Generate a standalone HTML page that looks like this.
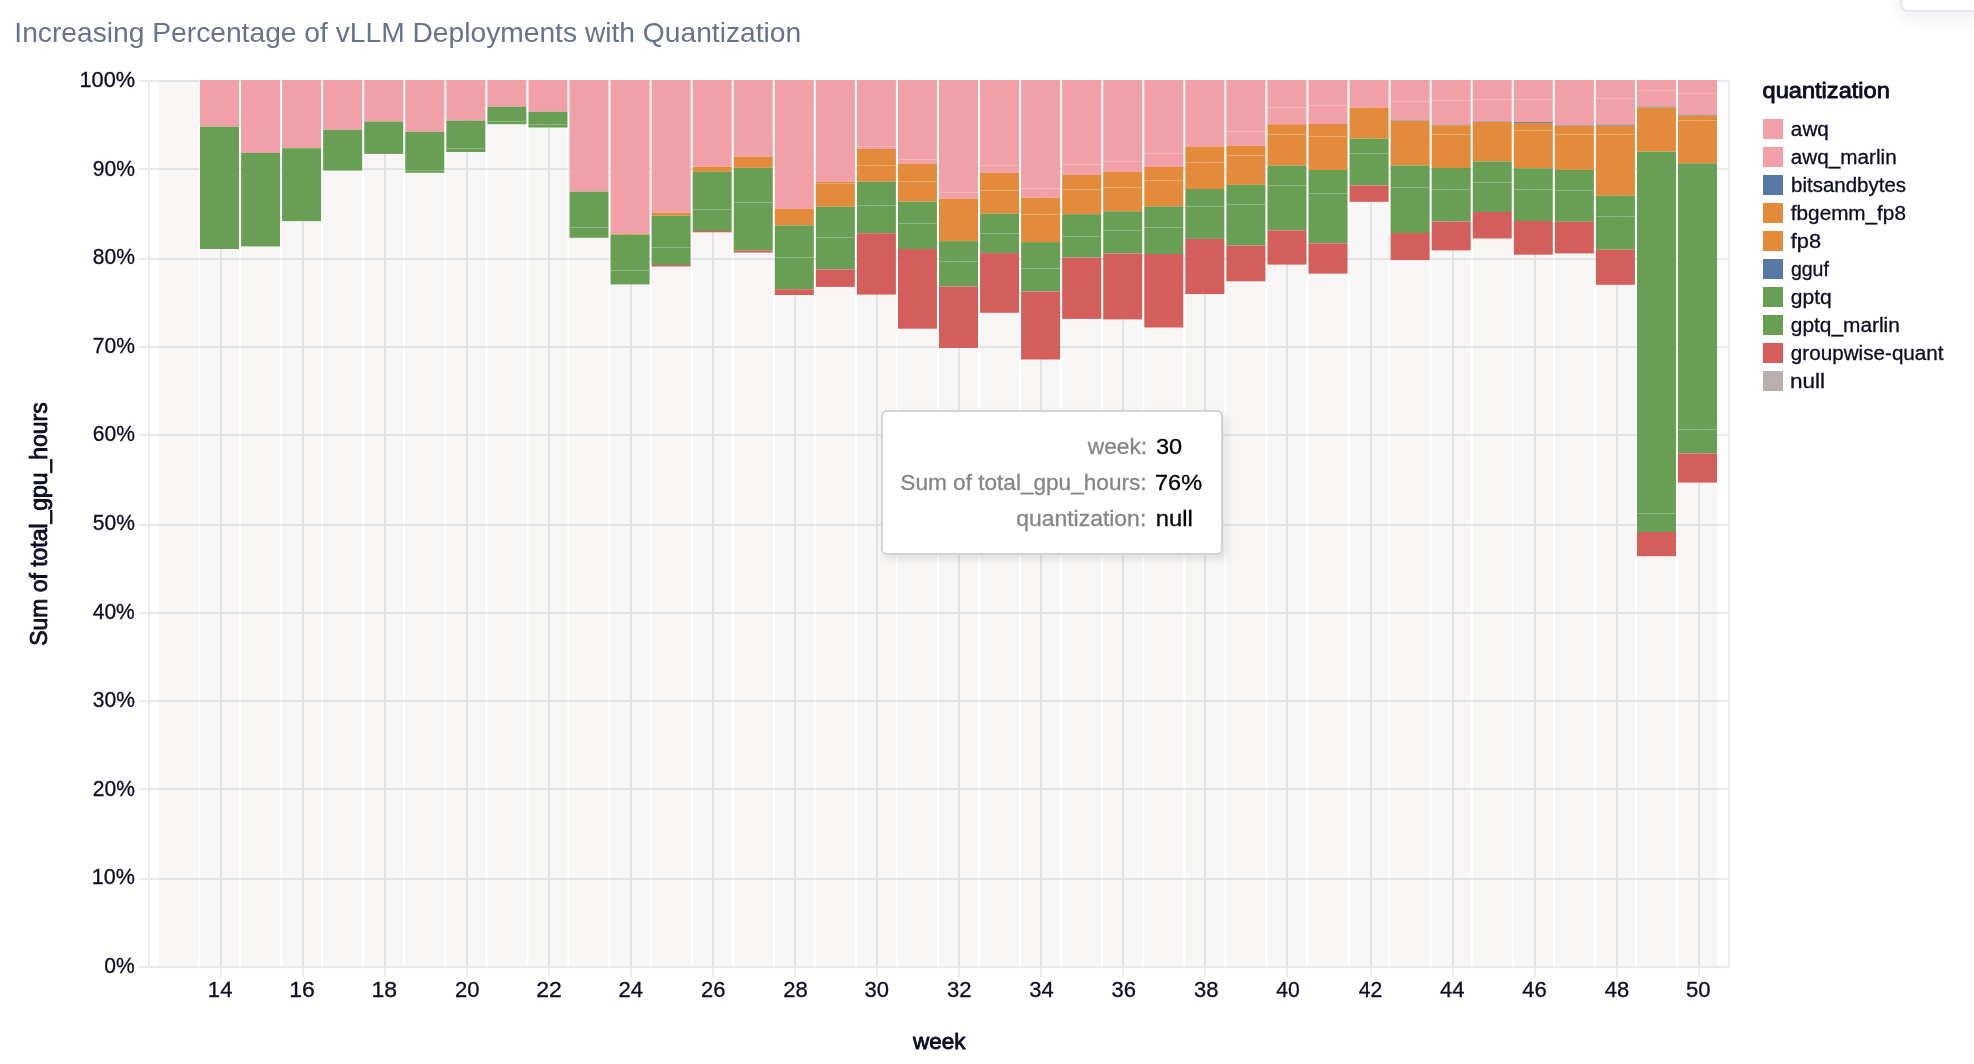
<!DOCTYPE html>
<html><head><meta charset="utf-8"><title>chart</title>
<style>
html,body{margin:0;padding:0;background:#fff;}
body{width:1974px;height:1064px;position:relative;overflow:hidden;font-family:"Liberation Sans",sans-serif;}
svg{position:absolute;left:0;top:0;will-change:transform;}
svg text{font-family:"Liberation Sans",sans-serif;}
.tip{position:absolute;box-sizing:border-box;left:881px;top:410px;width:342px;height:144.5px;background:#fff;border:2px solid #d4d4d4;border-radius:6px;box-shadow:4px 4px 8px rgba(0,0,0,0.10);}
.corner{position:absolute;left:1900px;top:-32px;width:120px;height:40px;background:#fff;border:2px solid #e6e7ee;border-radius:8px;box-shadow:0 6px 18px rgba(20,20,60,0.07);}
</style></head><body>
<div class="corner"></div>
<svg width="1974" height="1064" viewBox="0 0 1974 1064">
<g fill="#e9e9f0">
<rect x="139" y="966" width="1591" height="2"/>
<rect x="139" y="878" width="1591" height="2"/>
<rect x="139" y="788" width="1591" height="2"/>
<rect x="139" y="700" width="1591" height="2"/>
<rect x="139" y="612" width="1591" height="2"/>
<rect x="139" y="524" width="1591" height="2"/>
<rect x="139" y="434" width="1591" height="2"/>
<rect x="139" y="346" width="1591" height="2"/>
<rect x="139" y="258" width="1591" height="2"/>
<rect x="139" y="168" width="1591" height="2"/>
<rect x="139" y="80" width="1591" height="2"/>
<rect x="220" y="80" width="2" height="897"/>
<rect x="302" y="80" width="2" height="897"/>
<rect x="384" y="80" width="2" height="897"/>
<rect x="466" y="80" width="2" height="897"/>
<rect x="548" y="80" width="2" height="897"/>
<rect x="630" y="80" width="2" height="897"/>
<rect x="712" y="80" width="2" height="897"/>
<rect x="794" y="80" width="2" height="897"/>
<rect x="876" y="80" width="2" height="897"/>
<rect x="958" y="80" width="2" height="897"/>
<rect x="1040" y="80" width="2" height="897"/>
<rect x="1122" y="80" width="2" height="897"/>
<rect x="1204" y="80" width="2" height="897"/>
<rect x="1286" y="80" width="2" height="897"/>
<rect x="1370" y="80" width="2" height="897"/>
<rect x="1452" y="80" width="2" height="897"/>
<rect x="1534" y="80" width="2" height="897"/>
<rect x="1616" y="80" width="2" height="897"/>
<rect x="1698" y="80" width="2" height="897"/>
<rect x="148" y="80" width="2" height="888"/>
<rect x="1728" y="80" width="2" height="888"/>
</g>
<g fill="#b9afab" fill-opacity="0.115">
<rect x="158.94" y="80" width="39" height="886"/>
<rect x="200" y="249" width="39" height="717"/>
<rect x="241.06" y="246.4" width="39" height="719.6"/>
<rect x="282.11" y="221.1" width="39" height="744.9"/>
<rect x="323.17" y="170.6" width="39" height="795.4"/>
<rect x="364.22" y="153.9" width="39" height="812.1"/>
<rect x="405.28" y="172.8" width="39" height="793.2"/>
<rect x="446.34" y="152" width="39" height="814"/>
<rect x="487.39" y="124.2" width="39" height="841.8"/>
<rect x="528.45" y="127.5" width="39" height="838.5"/>
<rect x="569.5" y="237.8" width="39" height="728.2"/>
<rect x="610.56" y="284.4" width="39" height="681.6"/>
<rect x="651.62" y="266.5" width="39" height="699.5"/>
<rect x="692.67" y="232.3" width="39" height="733.7"/>
<rect x="733.73" y="252.6" width="39" height="713.4"/>
<rect x="774.78" y="295" width="39" height="671"/>
<rect x="815.84" y="286.9" width="39" height="679.1"/>
<rect x="856.9" y="294.6" width="39" height="671.4"/>
<rect x="897.95" y="328.7" width="39" height="637.3"/>
<rect x="939.01" y="348" width="39" height="618"/>
<rect x="980.06" y="312.8" width="39" height="653.2"/>
<rect x="1021.12" y="359.5" width="39" height="606.5"/>
<rect x="1062.18" y="318.9" width="39" height="647.1"/>
<rect x="1103.23" y="319.4" width="39" height="646.6"/>
<rect x="1144.29" y="327.5" width="39" height="638.5"/>
<rect x="1185.34" y="294" width="39" height="672"/>
<rect x="1226.4" y="281.3" width="39" height="684.7"/>
<rect x="1267.46" y="264.6" width="39" height="701.4"/>
<rect x="1308.51" y="273.6" width="39" height="692.4"/>
<rect x="1349.57" y="201.8" width="39" height="764.2"/>
<rect x="1390.62" y="260.1" width="39" height="705.9"/>
<rect x="1431.68" y="250.4" width="39" height="715.6"/>
<rect x="1472.74" y="238.5" width="39" height="727.5"/>
<rect x="1513.79" y="254.7" width="39" height="711.3"/>
<rect x="1554.85" y="253.4" width="39" height="712.6"/>
<rect x="1595.9" y="284.8" width="39" height="681.2"/>
<rect x="1636.96" y="556.2" width="39" height="409.8"/>
<rect x="1678.02" y="482.6" width="39" height="483.4"/>
</g>
<rect x="200" y="80" width="39" height="46.7" fill="#f0a0a6"/>
<rect x="200" y="126.7" width="39" height="122.3" fill="#699f55"/>
<rect x="241.06" y="80" width="39" height="73" fill="#f0a0a6"/>
<rect x="241.06" y="153" width="39" height="93.4" fill="#699f55"/>
<rect x="282.11" y="80" width="39" height="68.2" fill="#f0a0a6"/>
<rect x="282.11" y="148.2" width="39" height="72.9" fill="#699f55"/>
<rect x="323.17" y="80" width="39" height="49.8" fill="#f0a0a6"/>
<rect x="323.17" y="129.8" width="39" height="40.8" fill="#699f55"/>
<rect x="364.22" y="80" width="39" height="41.5" fill="#f0a0a6"/>
<rect x="364.22" y="121.5" width="39" height="32.4" fill="#699f55"/>
<rect x="405.28" y="80" width="39" height="51.8" fill="#f0a0a6"/>
<rect x="405.28" y="131.8" width="39" height="38.7" fill="#699f55"/>
<rect x="405.28" y="170.5" width="39" height="2.3" fill="#699f55"/>
<rect x="446.34" y="80" width="39" height="40.6" fill="#f0a0a6"/>
<rect x="446.34" y="120.6" width="39" height="27.9" fill="#699f55"/>
<rect x="446.34" y="148.5" width="39" height="3.5" fill="#699f55"/>
<rect x="487.39" y="80" width="39" height="26.7" fill="#f0a0a6"/>
<rect x="487.39" y="106.7" width="39" height="14.8" fill="#699f55"/>
<rect x="487.39" y="121.5" width="39" height="2.7" fill="#699f55"/>
<rect x="528.45" y="80" width="39" height="31.7" fill="#f0a0a6"/>
<rect x="528.45" y="111.7" width="39" height="12.8" fill="#699f55"/>
<rect x="528.45" y="124.5" width="39" height="3" fill="#699f55"/>
<rect x="569.5" y="80" width="39" height="111.6" fill="#f0a0a6"/>
<rect x="569.5" y="191.6" width="39" height="35.9" fill="#699f55"/>
<rect x="569.5" y="227.5" width="39" height="10.3" fill="#699f55"/>
<rect x="610.56" y="80" width="39" height="153.6" fill="#f0a0a6"/>
<rect x="610.56" y="233.6" width="39" height="1" fill="#e38b3a"/>
<rect x="610.56" y="234.6" width="39" height="35.9" fill="#699f55"/>
<rect x="610.56" y="270.5" width="39" height="13.9" fill="#699f55"/>
<rect x="651.62" y="80" width="39" height="132.6" fill="#f0a0a6"/>
<rect x="651.62" y="212.6" width="39" height="3.1" fill="#e38b3a"/>
<rect x="651.62" y="215.7" width="39" height="31.8" fill="#699f55"/>
<rect x="651.62" y="247.5" width="39" height="17.5" fill="#699f55"/>
<rect x="651.62" y="265" width="39" height="1.5" fill="#d45e5b"/>
<rect x="692.67" y="80" width="39" height="86.7" fill="#f0a0a6"/>
<rect x="692.67" y="166.7" width="39" height="5.1" fill="#e38b3a"/>
<rect x="692.67" y="171.8" width="39" height="37.7" fill="#699f55"/>
<rect x="692.67" y="209.5" width="39" height="21.5" fill="#699f55"/>
<rect x="692.67" y="231" width="39" height="1.3" fill="#d45e5b"/>
<rect x="733.73" y="80" width="39" height="76.7" fill="#f0a0a6"/>
<rect x="733.73" y="156.7" width="39" height="11.1" fill="#e38b3a"/>
<rect x="733.73" y="167.8" width="39" height="34.7" fill="#699f55"/>
<rect x="733.73" y="202.5" width="39" height="48.1" fill="#699f55"/>
<rect x="733.73" y="250.6" width="39" height="2" fill="#d45e5b"/>
<rect x="774.78" y="80" width="39" height="128.9" fill="#f0a0a6"/>
<rect x="774.78" y="208.9" width="39" height="16.5" fill="#e38b3a"/>
<rect x="774.78" y="225.4" width="39" height="32.1" fill="#699f55"/>
<rect x="774.78" y="257.5" width="39" height="31.8" fill="#699f55"/>
<rect x="774.78" y="289.3" width="39" height="5.7" fill="#d45e5b"/>
<rect x="815.84" y="80" width="39" height="101.9" fill="#f0a0a6"/>
<rect x="815.84" y="181.9" width="39" height="1.6" fill="#e38b3a"/>
<rect x="815.84" y="183.5" width="39" height="23.2" fill="#e38b3a"/>
<rect x="815.84" y="206.7" width="39" height="30.8" fill="#699f55"/>
<rect x="815.84" y="237.5" width="39" height="31.9" fill="#699f55"/>
<rect x="815.84" y="269.4" width="39" height="17.5" fill="#d45e5b"/>
<rect x="856.9" y="80" width="39" height="66.5" fill="#f0a0a6"/>
<rect x="856.9" y="146.5" width="39" height="2.5" fill="#f0a0a6"/>
<rect x="856.9" y="149" width="39" height="16.5" fill="#e38b3a"/>
<rect x="856.9" y="165.5" width="39" height="16.2" fill="#e38b3a"/>
<rect x="856.9" y="181.7" width="39" height="23.8" fill="#699f55"/>
<rect x="856.9" y="205.5" width="39" height="27.7" fill="#699f55"/>
<rect x="856.9" y="233.2" width="39" height="61.4" fill="#d45e5b"/>
<rect x="897.95" y="80" width="39" height="79.5" fill="#f0a0a6"/>
<rect x="897.95" y="159.5" width="39" height="4.3" fill="#f0a0a6"/>
<rect x="897.95" y="163.8" width="39" height="17.7" fill="#e38b3a"/>
<rect x="897.95" y="181.5" width="39" height="20.1" fill="#e38b3a"/>
<rect x="897.95" y="201.6" width="39" height="21.9" fill="#699f55"/>
<rect x="897.95" y="223.5" width="39" height="25.5" fill="#699f55"/>
<rect x="897.95" y="249" width="39" height="79.7" fill="#d45e5b"/>
<rect x="939.01" y="80" width="39" height="112.5" fill="#f0a0a6"/>
<rect x="939.01" y="192.5" width="39" height="6.2" fill="#f0a0a6"/>
<rect x="939.01" y="198.7" width="39" height="42.4" fill="#e38b3a"/>
<rect x="939.01" y="241.1" width="39" height="20.4" fill="#699f55"/>
<rect x="939.01" y="261.5" width="39" height="25" fill="#699f55"/>
<rect x="939.01" y="286.5" width="39" height="61.5" fill="#d45e5b"/>
<rect x="980.06" y="80" width="39" height="85.5" fill="#f0a0a6"/>
<rect x="980.06" y="165.5" width="39" height="7.4" fill="#f0a0a6"/>
<rect x="980.06" y="172.9" width="39" height="17.6" fill="#e38b3a"/>
<rect x="980.06" y="190.5" width="39" height="23.2" fill="#e38b3a"/>
<rect x="980.06" y="213.7" width="39" height="19.8" fill="#699f55"/>
<rect x="980.06" y="233.5" width="39" height="19.6" fill="#699f55"/>
<rect x="980.06" y="253.1" width="39" height="59.7" fill="#d45e5b"/>
<rect x="1021.12" y="80" width="39" height="108.5" fill="#f0a0a6"/>
<rect x="1021.12" y="188.5" width="39" height="9.1" fill="#f0a0a6"/>
<rect x="1021.12" y="197.6" width="39" height="16.9" fill="#e38b3a"/>
<rect x="1021.12" y="214.5" width="39" height="27.6" fill="#e38b3a"/>
<rect x="1021.12" y="242.1" width="39" height="26.4" fill="#699f55"/>
<rect x="1021.12" y="268.5" width="39" height="23" fill="#699f55"/>
<rect x="1021.12" y="291.5" width="39" height="68" fill="#d45e5b"/>
<rect x="1062.18" y="80" width="39" height="84.5" fill="#f0a0a6"/>
<rect x="1062.18" y="164.5" width="39" height="10.4" fill="#f0a0a6"/>
<rect x="1062.18" y="174.9" width="39" height="14.6" fill="#e38b3a"/>
<rect x="1062.18" y="189.5" width="39" height="24.7" fill="#e38b3a"/>
<rect x="1062.18" y="214.2" width="39" height="22.3" fill="#699f55"/>
<rect x="1062.18" y="236.5" width="39" height="21.1" fill="#699f55"/>
<rect x="1062.18" y="257.6" width="39" height="61.3" fill="#d45e5b"/>
<rect x="1103.23" y="80" width="39" height="81.5" fill="#f0a0a6"/>
<rect x="1103.23" y="161.5" width="39" height="10.3" fill="#f0a0a6"/>
<rect x="1103.23" y="171.8" width="39" height="15.7" fill="#e38b3a"/>
<rect x="1103.23" y="187.5" width="39" height="23.8" fill="#e38b3a"/>
<rect x="1103.23" y="211.3" width="39" height="19.2" fill="#699f55"/>
<rect x="1103.23" y="230.5" width="39" height="23.1" fill="#699f55"/>
<rect x="1103.23" y="253.6" width="39" height="65.8" fill="#d45e5b"/>
<rect x="1144.29" y="80" width="39" height="73.5" fill="#f0a0a6"/>
<rect x="1144.29" y="153.5" width="39" height="13.4" fill="#f0a0a6"/>
<rect x="1144.29" y="166.9" width="39" height="13.6" fill="#e38b3a"/>
<rect x="1144.29" y="180.5" width="39" height="25.9" fill="#e38b3a"/>
<rect x="1144.29" y="206.4" width="39" height="21.1" fill="#699f55"/>
<rect x="1144.29" y="227.5" width="39" height="26.5" fill="#699f55"/>
<rect x="1144.29" y="254" width="39" height="73.5" fill="#d45e5b"/>
<rect x="1185.34" y="80" width="39" height="66.4" fill="#f0a0a6"/>
<rect x="1185.34" y="146.4" width="39" height="16.1" fill="#e38b3a"/>
<rect x="1185.34" y="162.5" width="39" height="26.5" fill="#e38b3a"/>
<rect x="1185.34" y="189" width="39" height="17.5" fill="#699f55"/>
<rect x="1185.34" y="206.5" width="39" height="32.4" fill="#699f55"/>
<rect x="1185.34" y="238.9" width="39" height="55.1" fill="#d45e5b"/>
<rect x="1226.4" y="80" width="39" height="51.5" fill="#f0a0a6"/>
<rect x="1226.4" y="131.5" width="39" height="14.4" fill="#f0a0a6"/>
<rect x="1226.4" y="145.9" width="39" height="9.6" fill="#e38b3a"/>
<rect x="1226.4" y="155.5" width="39" height="29.3" fill="#e38b3a"/>
<rect x="1226.4" y="184.8" width="39" height="19.7" fill="#699f55"/>
<rect x="1226.4" y="204.5" width="39" height="41.1" fill="#699f55"/>
<rect x="1226.4" y="245.6" width="39" height="35.7" fill="#d45e5b"/>
<rect x="1267.46" y="80" width="39" height="27.5" fill="#f0a0a6"/>
<rect x="1267.46" y="107.5" width="39" height="16.8" fill="#f0a0a6"/>
<rect x="1267.46" y="124.3" width="39" height="10.2" fill="#e38b3a"/>
<rect x="1267.46" y="134.5" width="39" height="31.1" fill="#e38b3a"/>
<rect x="1267.46" y="165.6" width="39" height="19.9" fill="#699f55"/>
<rect x="1267.46" y="185.5" width="39" height="44.8" fill="#699f55"/>
<rect x="1267.46" y="230.3" width="39" height="34.3" fill="#d45e5b"/>
<rect x="1308.51" y="80" width="39" height="25.5" fill="#f0a0a6"/>
<rect x="1308.51" y="105.5" width="39" height="18.5" fill="#f0a0a6"/>
<rect x="1308.51" y="124" width="39" height="12.5" fill="#e38b3a"/>
<rect x="1308.51" y="136.5" width="39" height="33.5" fill="#e38b3a"/>
<rect x="1308.51" y="170" width="39" height="23.5" fill="#699f55"/>
<rect x="1308.51" y="193.5" width="39" height="49.8" fill="#699f55"/>
<rect x="1308.51" y="243.3" width="39" height="30.3" fill="#d45e5b"/>
<rect x="1349.57" y="80" width="39" height="27.7" fill="#f0a0a6"/>
<rect x="1349.57" y="107.7" width="39" height="30.9" fill="#e38b3a"/>
<rect x="1349.57" y="138.6" width="39" height="14.9" fill="#699f55"/>
<rect x="1349.57" y="153.5" width="39" height="32" fill="#699f55"/>
<rect x="1349.57" y="185.5" width="39" height="16.3" fill="#d45e5b"/>
<rect x="1390.62" y="80" width="39" height="21.5" fill="#f0a0a6"/>
<rect x="1390.62" y="101.5" width="39" height="18.8" fill="#f0a0a6"/>
<rect x="1390.62" y="120.3" width="39" height="0.5" fill="#5778a4"/>
<rect x="1390.62" y="120.8" width="39" height="44.6" fill="#e38b3a"/>
<rect x="1390.62" y="165.4" width="39" height="22.1" fill="#699f55"/>
<rect x="1390.62" y="187.5" width="39" height="45.5" fill="#699f55"/>
<rect x="1390.62" y="233" width="39" height="27.1" fill="#d45e5b"/>
<rect x="1431.68" y="80" width="39" height="20.5" fill="#f0a0a6"/>
<rect x="1431.68" y="100.5" width="39" height="24.2" fill="#f0a0a6"/>
<rect x="1431.68" y="124.7" width="39" height="0.5" fill="#5778a4"/>
<rect x="1431.68" y="125.2" width="39" height="9.3" fill="#e38b3a"/>
<rect x="1431.68" y="134.5" width="39" height="33.5" fill="#e38b3a"/>
<rect x="1431.68" y="168" width="39" height="21.5" fill="#699f55"/>
<rect x="1431.68" y="189.5" width="39" height="32" fill="#699f55"/>
<rect x="1431.68" y="221.5" width="39" height="28.9" fill="#d45e5b"/>
<rect x="1472.74" y="80" width="39" height="19.5" fill="#f0a0a6"/>
<rect x="1472.74" y="99.5" width="39" height="21.9" fill="#f0a0a6"/>
<rect x="1472.74" y="121.4" width="39" height="0.5" fill="#5778a4"/>
<rect x="1472.74" y="121.9" width="39" height="39.5" fill="#e38b3a"/>
<rect x="1472.74" y="161.4" width="39" height="21.1" fill="#699f55"/>
<rect x="1472.74" y="182.5" width="39" height="29.5" fill="#699f55"/>
<rect x="1472.74" y="212" width="39" height="26.5" fill="#d45e5b"/>
<rect x="1513.79" y="80" width="39" height="19.5" fill="#f0a0a6"/>
<rect x="1513.79" y="99.5" width="39" height="22.4" fill="#f0a0a6"/>
<rect x="1513.79" y="121.9" width="39" height="1" fill="#5778a4"/>
<rect x="1513.79" y="122.9" width="39" height="7.6" fill="#e38b3a"/>
<rect x="1513.79" y="130.5" width="39" height="37.7" fill="#e38b3a"/>
<rect x="1513.79" y="168.2" width="39" height="21.3" fill="#699f55"/>
<rect x="1513.79" y="189.5" width="39" height="31.5" fill="#699f55"/>
<rect x="1513.79" y="221" width="39" height="33.7" fill="#d45e5b"/>
<rect x="1554.85" y="80" width="39" height="45.5" fill="#f0a0a6"/>
<rect x="1554.85" y="125.5" width="39" height="0.5" fill="#5778a4"/>
<rect x="1554.85" y="126" width="39" height="8.5" fill="#e38b3a"/>
<rect x="1554.85" y="134.5" width="39" height="35.4" fill="#e38b3a"/>
<rect x="1554.85" y="169.9" width="39" height="20.6" fill="#699f55"/>
<rect x="1554.85" y="190.5" width="39" height="31.3" fill="#699f55"/>
<rect x="1554.85" y="221.8" width="39" height="31.6" fill="#d45e5b"/>
<rect x="1595.9" y="80" width="39" height="18.5" fill="#f0a0a6"/>
<rect x="1595.9" y="98.5" width="39" height="26.2" fill="#f0a0a6"/>
<rect x="1595.9" y="124.7" width="39" height="1" fill="#5778a4"/>
<rect x="1595.9" y="125.7" width="39" height="8.8" fill="#e38b3a"/>
<rect x="1595.9" y="134.5" width="39" height="61.3" fill="#e38b3a"/>
<rect x="1595.9" y="195.8" width="39" height="20.7" fill="#699f55"/>
<rect x="1595.9" y="216.5" width="39" height="33.2" fill="#699f55"/>
<rect x="1595.9" y="249.7" width="39" height="35.1" fill="#d45e5b"/>
<rect x="1636.96" y="80" width="39" height="10.5" fill="#f0a0a6"/>
<rect x="1636.96" y="90.5" width="39" height="16.2" fill="#f0a0a6"/>
<rect x="1636.96" y="106.7" width="39" height="0.8" fill="#5778a4"/>
<rect x="1636.96" y="107.5" width="39" height="44.1" fill="#e38b3a"/>
<rect x="1636.96" y="151.6" width="39" height="361.9" fill="#699f55"/>
<rect x="1636.96" y="513.5" width="39" height="18.5" fill="#699f55"/>
<rect x="1636.96" y="532" width="39" height="24.2" fill="#d45e5b"/>
<rect x="1678.02" y="80" width="39" height="13.5" fill="#f0a0a6"/>
<rect x="1678.02" y="93.5" width="39" height="21.3" fill="#f0a0a6"/>
<rect x="1678.02" y="114.8" width="39" height="0.8" fill="#5778a4"/>
<rect x="1678.02" y="115.6" width="39" height="4.9" fill="#e38b3a"/>
<rect x="1678.02" y="120.5" width="39" height="42.8" fill="#e38b3a"/>
<rect x="1678.02" y="163.3" width="39" height="266.2" fill="#699f55"/>
<rect x="1678.02" y="429.5" width="39" height="23.9" fill="#699f55"/>
<rect x="1678.02" y="453.4" width="39" height="29.2" fill="#d45e5b"/>
<rect x="1763" y="119" width="20" height="20" fill="#f0a0a6"/>
<rect x="1763" y="147" width="20" height="20" fill="#f0a0a6"/>
<rect x="1763" y="175" width="20" height="20" fill="#5778a4"/>
<rect x="1763" y="203" width="20" height="20" fill="#e38b3a"/>
<rect x="1763" y="231" width="20" height="20" fill="#e38b3a"/>
<rect x="1763" y="259" width="20" height="20" fill="#5778a4"/>
<rect x="1763" y="287" width="20" height="20" fill="#699f55"/>
<rect x="1763" y="315" width="20" height="20" fill="#699f55"/>
<rect x="1763" y="343" width="20" height="20" fill="#d45e5b"/>
<rect x="1763" y="371" width="20" height="20" fill="#b8b0ac"/>
<text id="yt0" font-size="21.6" fill="#0c0c25" stroke="#0c0c25" stroke-width="0.3" textLength="30.4" lengthAdjust="spacingAndGlyphs" x="104.27" y="973">0%</text>
<text id="yt10" font-size="21.6" fill="#0c0c25" stroke="#0c0c25" stroke-width="0.3" textLength="43.15" lengthAdjust="spacingAndGlyphs" x="91.72" y="884.4">10%</text>
<text id="yt20" font-size="21.6" fill="#0c0c25" stroke="#0c0c25" stroke-width="0.3" textLength="42.09" lengthAdjust="spacingAndGlyphs" x="92.75" y="795.8">20%</text>
<text id="yt30" font-size="21.6" fill="#0c0c25" stroke="#0c0c25" stroke-width="0.3" textLength="42.09" lengthAdjust="spacingAndGlyphs" x="92.75" y="707.2">30%</text>
<text id="yt40" font-size="21.6" fill="#0c0c25" stroke="#0c0c25" stroke-width="0.3" textLength="42.07" lengthAdjust="spacingAndGlyphs" x="92.76" y="618.6">40%</text>
<text id="yt50" font-size="21.6" fill="#0c0c25" stroke="#0c0c25" stroke-width="0.3" textLength="42.09" lengthAdjust="spacingAndGlyphs" x="92.75" y="530">50%</text>
<text id="yt60" font-size="21.6" fill="#0c0c25" stroke="#0c0c25" stroke-width="0.3" textLength="42.09" lengthAdjust="spacingAndGlyphs" x="92.75" y="441.4">60%</text>
<text id="yt70" font-size="21.6" fill="#0c0c25" stroke="#0c0c25" stroke-width="0.3" textLength="42.09" lengthAdjust="spacingAndGlyphs" x="92.75" y="352.8">70%</text>
<text id="yt80" font-size="21.6" fill="#0c0c25" stroke="#0c0c25" stroke-width="0.3" textLength="42.09" lengthAdjust="spacingAndGlyphs" x="92.75" y="264.2">80%</text>
<text id="yt90" font-size="21.6" fill="#0c0c25" stroke="#0c0c25" stroke-width="0.3" textLength="42.09" lengthAdjust="spacingAndGlyphs" x="92.75" y="175.6">90%</text>
<text id="yt100" font-size="21.6" fill="#0c0c25" stroke="#0c0c25" stroke-width="0.3" textLength="55.64" lengthAdjust="spacingAndGlyphs" x="79.52" y="87">100%</text>
<text id="xt14" font-size="21.6" fill="#0c0c25" stroke="#0c0c25" stroke-width="0.3" textLength="24.52" lengthAdjust="spacingAndGlyphs" x="207.88" y="997.3">14</text>
<text id="xt16" font-size="21.6" fill="#0c0c25" stroke="#0c0c25" stroke-width="0.3" textLength="25.58" lengthAdjust="spacingAndGlyphs" x="289.16" y="997.3">16</text>
<text id="xt18" font-size="21.6" fill="#0c0c25" stroke="#0c0c25" stroke-width="0.3" textLength="25.58" lengthAdjust="spacingAndGlyphs" x="371.49" y="997.3">18</text>
<text id="xt20" font-size="21.6" fill="#0c0c25" stroke="#0c0c25" stroke-width="0.3" textLength="24.47" lengthAdjust="spacingAndGlyphs" x="454.96" y="997.3">20</text>
<text id="xt22" font-size="21.6" fill="#0c0c25" stroke="#0c0c25" stroke-width="0.3" textLength="25.68" lengthAdjust="spacingAndGlyphs" x="536.23" y="997.3">22</text>
<text id="xt24" font-size="21.6" fill="#0c0c25" stroke="#0c0c25" stroke-width="0.3" textLength="24.51" lengthAdjust="spacingAndGlyphs" x="618.58" y="997.3">24</text>
<text id="xt26" font-size="21.6" fill="#0c0c25" stroke="#0c0c25" stroke-width="0.3" textLength="24.47" lengthAdjust="spacingAndGlyphs" x="700.96" y="997.3">26</text>
<text id="xt28" font-size="21.6" fill="#0c0c25" stroke="#0c0c25" stroke-width="0.3" textLength="24.51" lengthAdjust="spacingAndGlyphs" x="783.26" y="997.3">28</text>
<text id="xt30" font-size="21.6" fill="#0c0c25" stroke="#0c0c25" stroke-width="0.3" textLength="24.47" lengthAdjust="spacingAndGlyphs" x="864.64" y="997.3">30</text>
<text id="xt32" font-size="21.6" fill="#0c0c25" stroke="#0c0c25" stroke-width="0.3" textLength="24.56" lengthAdjust="spacingAndGlyphs" x="946.96" y="997.3">32</text>
<text id="xt34" font-size="21.6" fill="#0c0c25" stroke="#0c0c25" stroke-width="0.3" textLength="24.47" lengthAdjust="spacingAndGlyphs" x="1029.28" y="997.3">34</text>
<text id="xt36" font-size="21.6" fill="#0c0c25" stroke="#0c0c25" stroke-width="0.3" textLength="24.47" lengthAdjust="spacingAndGlyphs" x="1111.64" y="997.3">36</text>
<text id="xt38" font-size="21.6" fill="#0c0c25" stroke="#0c0c25" stroke-width="0.3" textLength="24.47" lengthAdjust="spacingAndGlyphs" x="1193.98" y="997.3">38</text>
<text id="xt40" font-size="21.6" fill="#0c0c25" stroke="#0c0c25" stroke-width="0.3" textLength="23.45" lengthAdjust="spacingAndGlyphs" x="1276.32" y="997.3">40</text>
<text id="xt42" font-size="21.6" fill="#0c0c25" stroke="#0c0c25" stroke-width="0.3" textLength="23.54" lengthAdjust="spacingAndGlyphs" x="1358.63" y="997.3">42</text>
<text id="xt44" font-size="21.6" fill="#0c0c25" stroke="#0c0c25" stroke-width="0.3" textLength="24.47" lengthAdjust="spacingAndGlyphs" x="1439.99" y="997.3">44</text>
<text id="xt46" font-size="21.6" fill="#0c0c25" stroke="#0c0c25" stroke-width="0.3" textLength="24.47" lengthAdjust="spacingAndGlyphs" x="1522.33" y="997.3">46</text>
<text id="xt48" font-size="21.6" fill="#0c0c25" stroke="#0c0c25" stroke-width="0.3" textLength="24.47" lengthAdjust="spacingAndGlyphs" x="1604.67" y="997.3">48</text>
<text id="xt50" font-size="21.6" fill="#0c0c25" stroke="#0c0c25" stroke-width="0.3" textLength="24.47" lengthAdjust="spacingAndGlyphs" x="1686" y="997.3">50</text>
<text id="title" font-size="27.5" fill="#68718e" textLength="786.87" lengthAdjust="spacingAndGlyphs" x="14.34" y="42">Increasing Percentage of vLLM Deployments with Quantization</text>
<text id="xtitle" font-size="22.5" fill="#0c0c25" stroke="#0c0c25" stroke-width="0.85" stroke-linejoin="round" textLength="52.49" lengthAdjust="spacingAndGlyphs" x="913.07" y="1049">week</text>
<text id="ytitle" font-size="23" fill="#0c0c25" stroke="#0c0c25" stroke-width="0.85" stroke-linejoin="round" textLength="243.39" lengthAdjust="spacingAndGlyphs" transform="translate(46.8,645.76) rotate(-90)">Sum of total_gpu_hours</text>
<text id="ltitle" font-size="22.3" fill="#0c0c25" stroke="#0c0c25" stroke-width="0.85" stroke-linejoin="round" textLength="127.4" lengthAdjust="spacingAndGlyphs" x="1762.51" y="97.5">quantization</text>
<text id="leg0" font-size="20" fill="#0c0c25" stroke="#0c0c25" stroke-width="0.3" textLength="38" lengthAdjust="spacingAndGlyphs" x="1790.86" y="135.8">awq</text>
<text id="leg1" font-size="20" fill="#0c0c25" stroke="#0c0c25" stroke-width="0.3" textLength="105.77" lengthAdjust="spacingAndGlyphs" x="1790.86" y="163.8">awq_marlin</text>
<text id="leg2" font-size="20" fill="#0c0c25" stroke="#0c0c25" stroke-width="0.3" textLength="114.99" lengthAdjust="spacingAndGlyphs" x="1791.06" y="191.8">bitsandbytes</text>
<text id="leg3" font-size="20" fill="#0c0c25" stroke="#0c0c25" stroke-width="0.3" textLength="115.03" lengthAdjust="spacingAndGlyphs" x="1790.86" y="219.8">fbgemm_fp8</text>
<text id="leg4" font-size="20" fill="#0c0c25" stroke="#0c0c25" stroke-width="0.3" textLength="30.29" lengthAdjust="spacingAndGlyphs" x="1790.8" y="247.8">fp8</text>
<text id="leg5" font-size="20" fill="#0c0c25" stroke="#0c0c25" stroke-width="0.3" textLength="38.02" lengthAdjust="spacingAndGlyphs" x="1790.88" y="275.8">gguf</text>
<text id="leg6" font-size="20" fill="#0c0c25" stroke="#0c0c25" stroke-width="0.3" textLength="40.9" lengthAdjust="spacingAndGlyphs" x="1790.84" y="303.8">gptq</text>
<text id="leg7" font-size="20" fill="#0c0c25" stroke="#0c0c25" stroke-width="0.3" textLength="108.99" lengthAdjust="spacingAndGlyphs" x="1790.86" y="331.8">gptq_marlin</text>
<text id="leg8" font-size="20" fill="#0c0c25" stroke="#0c0c25" stroke-width="0.3" textLength="152.72" lengthAdjust="spacingAndGlyphs" x="1790.87" y="359.8">groupwise-quant</text>
<text id="leg9" font-size="20" fill="#0c0c25" stroke="#0c0c25" stroke-width="0.3" textLength="35.04" lengthAdjust="spacingAndGlyphs" x="1789.9" y="387.8">null</text>
</svg>
<div class="tip"></div>
<svg width="1974" height="1064" viewBox="0 0 1974 1064">
<text id="tk0" font-size="22" fill="#858585" stroke="#858585" stroke-width="0.3" textLength="59.43" lengthAdjust="spacingAndGlyphs" x="1087.75" y="453.8">week:</text>
<text id="tv0" font-size="22" fill="#000" stroke="#000" stroke-width="0.3" textLength="26.21" lengthAdjust="spacingAndGlyphs" x="1155.99" y="453.8">30</text>
<text id="tk1" font-size="22" fill="#858585" stroke="#858585" stroke-width="0.3" textLength="246.2" lengthAdjust="spacingAndGlyphs" x="900.36" y="489.8">Sum of total_gpu_hours:</text>
<text id="tv1" font-size="22" fill="#000" stroke="#000" stroke-width="0.3" textLength="47.04" lengthAdjust="spacingAndGlyphs" x="1155.06" y="489.8">76%</text>
<text id="tk2" font-size="22" fill="#858585" stroke="#858585" stroke-width="0.3" textLength="130.1" lengthAdjust="spacingAndGlyphs" x="1016.16" y="526.4">quantization:</text>
<text id="tv2" font-size="22" fill="#000" stroke="#000" stroke-width="0.3" textLength="36.96" lengthAdjust="spacingAndGlyphs" x="1155.81" y="526.4">null</text>
</svg>
</body></html>
